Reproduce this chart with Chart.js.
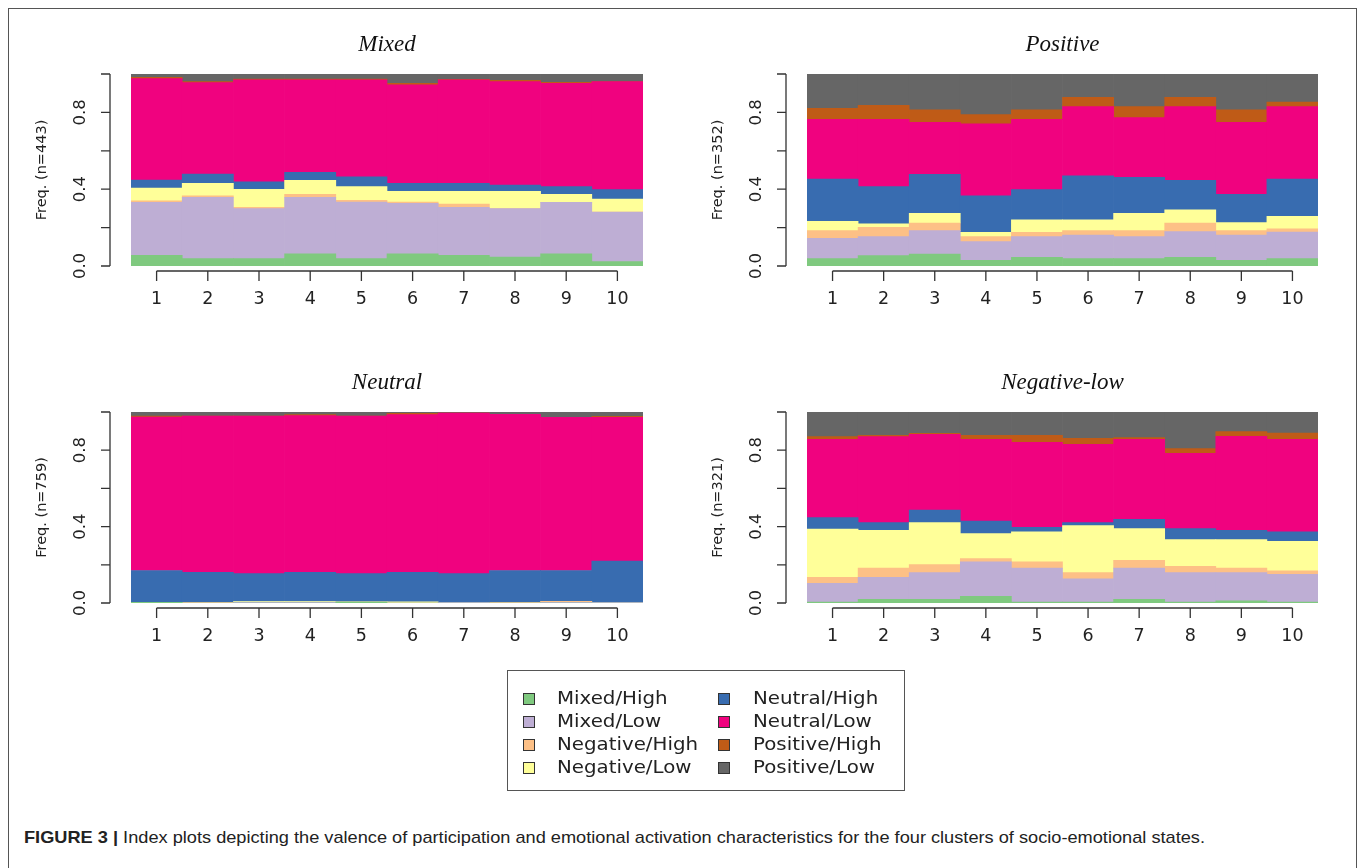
<!DOCTYPE html>
<html>
<head>
<meta charset="utf-8">
<script src="https://cdn.jsdelivr.net/npm/chart.js@4.4.1/dist/chart.umd.min.js"></script>
<style>
  body { margin: 0; background: #fff; width: 1358px; height: 868px; overflow: hidden; position: relative; }
  .frame { position: absolute; left: 8px; top: 8px; width: 1347px; height: 900px; border: 1px solid #555; border-bottom: none; }
  canvas { position: absolute; }
  .legend { position: absolute; left: 507px; top: 670px; width: 396px; height: 119px; border: 1.5px solid #555; }
  .item { position: absolute; font: 18.5px "DejaVu Sans", sans-serif; color: #222; line-height: 20px; white-space: nowrap;
          transform: scaleX(1.07); transform-origin: left center; }
  .swatch { position: absolute; width: 10px; height: 10px; border: 1px solid #333; }
  .caption { position: absolute; left: 24px; top: 828px; font: 17px "Liberation Sans", Arial, sans-serif; color: #222; white-space: nowrap;
             transform: scaleX(1.07); transform-origin: left center; }
  .caption b { font-weight: bold; }
</style>
</head>
<body>
<div class="frame"></div>
<canvas id="c1" width="679" height="340" style="left:0;top:0"></canvas>
<canvas id="c2" width="679" height="340" style="left:679px;top:0"></canvas>
<canvas id="c3" width="679" height="340" style="left:0;top:340px"></canvas>
<canvas id="c4" width="679" height="340" style="left:679px;top:340px"></canvas>
<div class="legend" id="legend"></div>
<div class="caption"><b>FIGURE 3 |</b> Index plots depicting the valence of participation and emotional activation characteristics for the four clusters of socio-emotional states.</div>

<script>
// time steps and states (bottom to top of each stack)
const steps = ['1', '2', '3', '4', '5', '6', '7', '8', '9', '10'];
const states = ['Mixed/High', 'Mixed/Low', 'Negative/High', 'Negative/Low',
                'Neutral/High', 'Neutral/Low', 'Positive/High', 'Positive/Low'];
const stateColors = ['#7FC97F', '#BEAED4', '#FDC086', '#FFFF99',
                     '#386CB0', '#F0027F', '#BF5B17', '#666666'];
const yTicks = [0, 0.2, 0.4, 0.6, 0.8, 1.0];
const yLabels = [0, 0.4, 0.8];

// one row per state, same order as states
const mixedCluster = [
  [0.056, 0.038, 0.038, 0.064, 0.038, 0.064, 0.056, 0.047, 0.064, 0.023],
  [0.276, 0.320, 0.261, 0.294, 0.295, 0.262, 0.250, 0.252, 0.268, 0.258],
  [0.007, 0.007, 0.007, 0.015, 0.009, 0.007, 0.017, 0.000, 0.000, 0.000],
  [0.067, 0.066, 0.093, 0.073, 0.071, 0.056, 0.066, 0.090, 0.041, 0.068],
  [0.042, 0.048, 0.040, 0.042, 0.051, 0.042, 0.042, 0.033, 0.040, 0.049],
  [0.528, 0.476, 0.530, 0.481, 0.505, 0.513, 0.538, 0.538, 0.538, 0.562],
  [0.007, 0.005, 0.005, 0.005, 0.005, 0.007, 0.003, 0.007, 0.006, 0.000],
  [0.017, 0.040, 0.026, 0.026, 0.026, 0.049, 0.028, 0.033, 0.043, 0.040]
];
const positiveCluster = [
  [0.038, 0.054, 0.062, 0.030, 0.045, 0.038, 0.038, 0.045, 0.030, 0.038],
  [0.106, 0.099, 0.122, 0.097, 0.108, 0.123, 0.115, 0.134, 0.131, 0.139],
  [0.040, 0.048, 0.040, 0.026, 0.022, 0.023, 0.031, 0.045, 0.023, 0.016],
  [0.049, 0.018, 0.050, 0.022, 0.066, 0.057, 0.090, 0.068, 0.042, 0.066],
  [0.220, 0.194, 0.203, 0.191, 0.157, 0.229, 0.188, 0.154, 0.147, 0.194],
  [0.311, 0.351, 0.271, 0.374, 0.366, 0.360, 0.311, 0.384, 0.375, 0.377],
  [0.057, 0.073, 0.065, 0.048, 0.049, 0.048, 0.057, 0.048, 0.065, 0.024],
  [0.179, 0.163, 0.188, 0.212, 0.188, 0.122, 0.170, 0.122, 0.188, 0.146]
];
const neutralCluster = [
  [0.004, 0.000, 0.000, 0.000, 0.006, 0.000, 0.000, 0.000, 0.000, 0.000],
  [0.000, 0.000, 0.004, 0.004, 0.000, 0.000, 0.004, 0.000, 0.004, 0.004],
  [0.000, 0.004, 0.000, 0.000, 0.000, 0.000, 0.000, 0.004, 0.005, 0.000],
  [0.000, 0.000, 0.004, 0.004, 0.000, 0.006, 0.000, 0.000, 0.000, 0.000],
  [0.166, 0.157, 0.146, 0.153, 0.148, 0.155, 0.150, 0.166, 0.161, 0.215],
  [0.804, 0.818, 0.825, 0.820, 0.825, 0.825, 0.841, 0.818, 0.802, 0.753],
  [0.005, 0.000, 0.000, 0.005, 0.000, 0.007, 0.000, 0.000, 0.000, 0.005],
  [0.021, 0.021, 0.021, 0.014, 0.021, 0.007, 0.005, 0.012, 0.028, 0.023]
];
const negativeLowCluster = [
  [0.005, 0.019, 0.019, 0.035, 0.005, 0.005, 0.019, 0.005, 0.012, 0.005],
  [0.098, 0.115, 0.140, 0.181, 0.178, 0.121, 0.164, 0.154, 0.147, 0.145],
  [0.031, 0.049, 0.042, 0.016, 0.033, 0.033, 0.040, 0.033, 0.024, 0.018],
  [0.253, 0.197, 0.220, 0.131, 0.156, 0.246, 0.166, 0.140, 0.149, 0.155],
  [0.060, 0.041, 0.066, 0.066, 0.024, 0.016, 0.049, 0.057, 0.048, 0.049],
  [0.410, 0.450, 0.396, 0.428, 0.445, 0.410, 0.419, 0.395, 0.493, 0.485],
  [0.014, 0.007, 0.005, 0.021, 0.037, 0.031, 0.009, 0.024, 0.024, 0.033],
  [0.129, 0.122, 0.112, 0.122, 0.122, 0.138, 0.134, 0.192, 0.103, 0.110]
];

// R style axes drawn off the chart's own scales
const rAxes = {
  id: 'rAxes',
  afterDraw(chart, args, opts) {
    const ctx = chart.ctx;
    const area = chart.chartArea;
    const xs = chart.scales.x, ys = chart.scales.y;
    ctx.save();
    ctx.strokeStyle = '#333';
    ctx.fillStyle = '#222';
    ctx.lineWidth = 1.3;

    // y axis
    const ax = area.left - 21;
    ctx.beginPath();
    ctx.moveTo(ax, ys.getPixelForValue(0));
    ctx.lineTo(ax, ys.getPixelForValue(1));
    yTicks.forEach(v => {
      const py = ys.getPixelForValue(v);
      ctx.moveTo(ax, py);
      ctx.lineTo(ax - 9, py);
    });
    ctx.stroke();
    ctx.font = '16.5px "DejaVu Sans"';
    ctx.textAlign = 'center';
    ctx.textBaseline = 'middle';
    yLabels.forEach(v => {
      ctx.save();
      ctx.translate(area.left - 50, ys.getPixelForValue(v));
      ctx.rotate(-Math.PI / 2);
      ctx.fillText(v.toFixed(1), 0, 0);
      ctx.restore();
    });
    ctx.save();
    ctx.font = '14.5px "DejaVu Sans"';
    ctx.translate(area.left - 89, (area.top + area.bottom) / 2);
    ctx.rotate(-Math.PI / 2);
    ctx.fillText(opts.ylab, 0, 0);
    ctx.restore();

    // x axis
    const ay = area.bottom + 5;
    ctx.beginPath();
    ctx.moveTo(xs.getPixelForValue(0), ay);
    ctx.lineTo(xs.getPixelForValue(steps.length - 1), ay);
    steps.forEach((s, i) => {
      const px = xs.getPixelForValue(i);
      ctx.moveTo(px, ay);
      ctx.lineTo(px, ay + 10);
    });
    ctx.stroke();
    ctx.font = '17.5px "DejaVu Sans"';
    steps.forEach((s, i) => ctx.fillText(s, xs.getPixelForValue(i), area.bottom + 33));

    // panel title
    ctx.font = 'italic 23px "Liberation Serif"';
    ctx.fillStyle = '#111';
    ctx.fillText(opts.title, (area.left + area.right) / 2, area.top - 29);
    ctx.restore();
  }
};

function drawPanel(id, rows, title, ylab, pad) {
  new Chart(document.getElementById(id), {
    type: 'bar',
    data: {
      labels: steps,
      datasets: states.map((s, i) => ({
        label: s,
        data: rows[i],
        backgroundColor: stateColors[i],
        borderWidth: 0,
        categoryPercentage: 1,
        barPercentage: 1
      }))
    },
    options: {
      responsive: false,
      animation: false,
      layout: { padding: pad },
      plugins: {
        legend: { display: false },
        tooltip: { enabled: false },
        rAxes: { title: title, ylab: ylab }
      },
      scales: {
        x: { stacked: true, display: false },
        y: { stacked: true, display: false, min: 0, max: 1 }
      }
    },
    plugins: [rAxes]
  });
}

drawPanel('c1', mixedCluster, 'Mixed', 'Freq. (n=443)', { left: 131, right: 36, top: 74, bottom: 74 });
drawPanel('c2', positiveCluster, 'Positive', 'Freq. (n=352)', { left: 128, right: 40, top: 74, bottom: 74 });
drawPanel('c3', neutralCluster, 'Neutral', 'Freq. (n=759)', { left: 131, right: 36, top: 72, bottom: 77 });
drawPanel('c4', negativeLowCluster, 'Negative-low', 'Freq. (n=321)', { left: 128, right: 40, top: 72, bottom: 77 });

// legend, two columns of four
const legend = document.getElementById('legend');
states.forEach((s, i) => {
  const col = Math.floor(i / 4), row = i % 4;
  const sw = document.createElement('div');
  sw.className = 'swatch';
  sw.style.background = stateColors[i];
  sw.style.left = (col ? 210 : 15) + 'px';
  sw.style.top = (22 + row * 23) + 'px';
  legend.appendChild(sw);
  const it = document.createElement('div');
  it.className = 'item';
  it.textContent = s;
  it.style.left = (col ? 245 : 49) + 'px';
  it.style.top = (17 + row * 23) + 'px';
  legend.appendChild(it);
});
</script>
</body>
</html>
